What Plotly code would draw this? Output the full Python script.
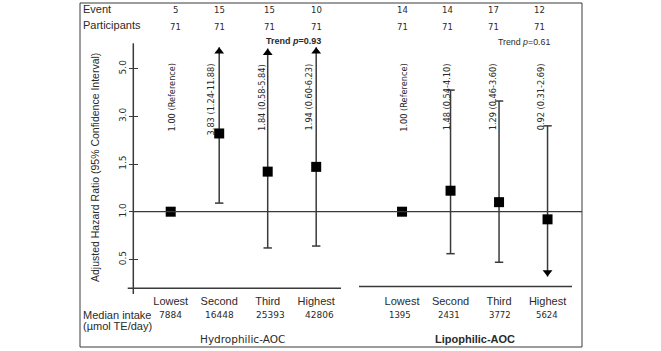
import numpy as np
import plotly.graph_objects as go

# ---------------- data ----------------
quartiles = ["Lowest", "Second", "Third", "Highest"]
groups = ["Hydrophilic-AOC", "Lipophilic-AOC"]

events_hydro = [5, 15, 15, 10]
events_lipo = [14, 14, 17, 12]
participants_hydro = [71, 71, 71, 71]
participants_lipo = [71, 71, 71, 71]

median_hydro = [7884, 16448, 25393, 42806]
median_lipo = [1395, 2431, 3772, 5624]

hr_hydro = [1.00, 2.46, 1.42, 1.47]
hr_lipo = [1.00, 1.22, 1.10, 0.92]
ci_low_hydro = [None, 1.09, 0.62, 0.64]
ci_high_hydro = [None, 11.88, 5.84, 6.23]
ci_low_lipo = [None, 0.56, 0.47, 0.32]
ci_high_lipo = [None, 4.10, 3.64, 2.70]

labels_hydro = ["1.00 (Reference)", "3.83 (1.24-11.88)", "1.84 (0.58-5.84)", "1.94 (0.60-6.23)"]
labels_lipo = ["1.00 (Reference)", "1.48 (0.54-4.10)", "1.29 (0.46-3.60)", "0.92 (0.31-2.69)"]
trend_hydro = "0.93"
trend_lipo = "0.61"

tick_hr = [0.5, 1.0, 1.5, 3.0, 5.0]
tick_text = ["0.5", "1.0", "1.5", "3.0", "5.0"]
hr_top_clip = 5.9

# ---------------- layout constants ----------------
W, H = 661, 351
PX_PER_X, X0_PIX = 48.5, 170.7
PX_PER_T, T2_PIX = 47.7, 164.0
LIPO_OFFSET = 4.77
LINE = "#3a3a3a"
TXT = "#2a2a2a"
ARROW_SIZE = 8.5


def px(x):
    return x / W


def py(y):
    return 1 - y / H


def hr_to_t(v):
    """Chart's own piecewise y scale: tick labels equally spaced."""
    tv = tick_hr
    i = 0
    while i < len(tv) - 2 and v > tv[i + 1]:
        i += 1
    return i + (v - tv[i]) / (tv[i + 1] - tv[i])


xpos = [np.arange(4, dtype=float), np.arange(4, dtype=float) + LIPO_OFFSET]
hrs = [hr_hydro, hr_lipo]
lows = [ci_low_hydro, ci_low_lipo]
highs = [ci_high_hydro, ci_high_lipo]

fig = go.Figure()

# CI lines, caps and arrows
lx, ly, cx, cy, ux, uy, dx, dy = [], [], [], [], [], [], [], []
arrow_off = (ARROW_SIZE / 2) / PX_PER_T
for g in range(2):
    for i in range(4):
        lo, hi = lows[g][i], highs[g][i]
        if lo is None:
            continue
        x = xpos[g][i]
        hi_c = min(hi, hr_top_clip)
        t_lo, t_hi = hr_to_t(lo), hr_to_t(hi_c)
        lx += [x, x, None]
        ly += [t_lo, t_hi, None]
        if hi > tick_hr[-1]:
            ux.append(x)
            uy.append(t_hi - arrow_off)
        else:
            cx.append(x)
            cy.append(t_hi)
        if lo < 0.4:
            dx.append(x)
            dy.append(t_lo + arrow_off)
        else:
            cx.append(x)
            cy.append(t_lo)

fig.add_trace(go.Scatter(x=lx, y=ly, mode="lines", line=dict(color=LINE, width=1.5),
                         hoverinfo="skip", showlegend=False))
fig.add_trace(go.Scatter(x=cx, y=cy, mode="markers",
                         marker=dict(symbol="line-ew", size=6, line=dict(color=LINE, width=1.5)),
                         hoverinfo="skip", showlegend=False))
fig.add_trace(go.Scatter(x=ux, y=uy, mode="markers",
                         marker=dict(symbol="triangle-up", size=ARROW_SIZE, color="black"),
                         hoverinfo="skip", showlegend=False))
fig.add_trace(go.Scatter(x=dx, y=dy, mode="markers",
                         marker=dict(symbol="triangle-down", size=ARROW_SIZE, color="black"),
                         hoverinfo="skip", showlegend=False))

# point estimates
for g in range(2):
    fig.add_trace(go.Scatter(x=xpos[g], y=[hr_to_t(v) for v in hrs[g]], mode="markers",
                             marker=dict(symbol="square", size=10, color="black"),
                             name=groups[g], showlegend=False))

shapes = []
# outer box
shapes.append(dict(type="rect", xref="paper", yref="paper", x0=px(80), x1=px(582), y0=py(347), y1=py(3),
                   line=dict(color=LINE, width=1)))
# y axis line
shapes.append(dict(type="line", xref="paper", yref="paper", x0=px(133.3), x1=px(133.3), y0=py(294), y1=py(43.3),
                   line=dict(color=LINE, width=1.5)))
# reference line at HR = 1
shapes.append(dict(type="line", xref="paper", yref="y", x0=px(133.3), x1=px(582), y0=hr_to_t(1.0), y1=hr_to_t(1.0),
                   line=dict(color=LINE, width=1.2)))
# bottom baselines
shapes.append(dict(type="line", xref="paper", yref="paper", x0=px(127.7), x1=px(341), y0=py(288.3), y1=py(288.3),
                   line=dict(color=LINE, width=1.5)))
shapes.append(dict(type="line", xref="paper", yref="paper", x0=px(359), x1=px(572), y0=py(286.5), y1=py(286.5),
                   line=dict(color=LINE, width=1.5)))

ann = []


def text(x, y, s, size, family="Liberation Sans", xref="paper", xanchor="center", yanchor="middle",
         angle=0, xshift=0, color=TXT):
    ann.append(dict(x=x, y=y, xref=xref, yref="paper", text=s, showarrow=False, xanchor=xanchor,
                    yanchor=yanchor, textangle=angle, xshift=xshift,
                    font=dict(family=family, size=size, color=color)))


text(px(81), py(9), "Event", 11, xanchor="left")
text(px(81), py(25), "Participants", 11, xanchor="left")
text(px(81), py(314.7), "Median intake", 11, xanchor="left")
text(px(81), py(326), "(µmol TE/day)", 11, xanchor="left")

tops = [(events_hydro, participants_hydro, median_hydro, labels_hydro),
        (events_lipo, participants_lipo, median_lipo, labels_lipo)]
count_nudge = [[5, 0, 2, 0], [0, -3.5, -6, -8.5]]
median_nudge = [[0, 0, 2.5, 3], [-2, -1.5, 1, -0.5]]
label_nudge = [[1, -8.5, -6, -7], [2, -3.5, -6, -6.5]]
for g in range(2):
    ev, pa, med, lab = tops[g]
    for i in range(4):
        x = xpos[g][i]
        text(x, py(9.7), str(ev[i]), 8.5, family="DejaVu Sans", xref="x", xshift=count_nudge[g][i])
        text(x, py(26.5), str(pa[i]), 8.5, family="DejaVu Sans", xref="x", xshift=count_nudge[g][i])
        text(x, py(314.7), str(med[i]), 9 if g == 0 else 8.5, family="DejaVu Sans", xref="x",
             xshift=median_nudge[g][i])
        text(x, py(61.7), lab[i], 8.2, family="DejaVu Sans", xref="x", yanchor="top", angle=-90,
             xshift=label_nudge[g][i])

text(px(293.5), py(41), "<b>Trend <i>p</i>=%s</b>" % trend_hydro, 9, family="Liberation Sans")
text(px(523.5), py(42), "Trend <i>p</i>=%s" % trend_lipo, 8.8, family="Liberation Sans")
text(px(242.5), py(339), groups[0], 10.5, family="DejaVu Sans")
text(px(475), py(339), "<b>%s</b>" % groups[1], 11, family="Liberation Sans")
text(px(95), py(167), "Adjusted Hazard Ratio (95% Confidence Interval)", 10.5, angle=-90)

t_range = [2 - (H - T2_PIX) / PX_PER_T, 2 + T2_PIX / PX_PER_T]
x_range = [-X0_PIX / PX_PER_X, (W - X0_PIX) / PX_PER_X]
cat_x = list(xpos[0]) + list(xpos[1])

fig.update_layout(
    width=W, height=H, margin=dict(l=0, r=0, t=0, b=0, autoexpand=False),
    paper_bgcolor="white", plot_bgcolor="white",
    showlegend=False, shapes=shapes, annotations=ann,
    xaxis=dict(range=x_range, showgrid=False, zeroline=False, showline=False, automargin=False,
               tickvals=cat_x, ticktext=quartiles * 2, ticks="",
               tickfont=dict(family="Liberation Sans", size=11, color=TXT),
               anchor="free", position=py(293)),
    yaxis=dict(range=t_range, showgrid=False, zeroline=False, showline=False, automargin=False,
               tickvals=[hr_to_t(v) for v in tick_hr], ticktext=tick_text, tickangle=-90,
               ticks="outside", ticklen=4, tickwidth=1.2, tickcolor=LINE,
               tickfont=dict(family="DejaVu Sans", size=9, color=TXT),
               anchor="free", position=px(133.3)),
    yaxis2=dict(range=t_range, overlaying="y", showgrid=False, zeroline=False, showline=False,
                automargin=False,
                tickvals=[hr_to_t(v) for v in tick_hr], showticklabels=False,
                ticks="inside", ticklen=4, tickwidth=1.2, tickcolor=LINE,
                anchor="free", position=px(133.3)),
)
fig.add_trace(go.Scatter(x=[None], y=[None], yaxis="y2", showlegend=False, hoverinfo="skip"))

fig.write_html("out.html", config={"displayModeBar": False},
               post_script="document.body.style.margin='0';document.body.style.padding='0';")
